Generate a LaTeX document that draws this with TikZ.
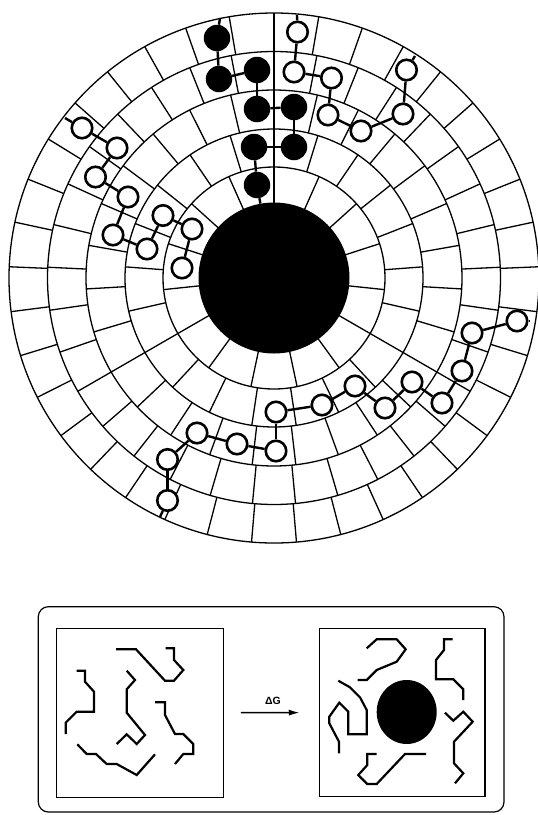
\documentclass[tikz,border=0pt]{standalone}
\usepackage{fontspec}
\setmainfont{Liberation Sans}
\usepackage{tikz}
\usetikzlibrary{arrows.meta, shapes.geometric}

\begin{document}
\begin{tikzpicture}[
    x=1pt, y=-1pt,
    cellline/.style={line width=1.3pt},
    core/.style={circle, fill=black, inner sep=0pt, minimum size=151pt},
    bead/.style={circle, draw=black, fill=white, line width=2.6pt, inner sep=0pt, minimum size=20.5pt},
    boundbead/.style={circle, fill=black, inner sep=0pt, minimum size=26.5pt},
    link/.style={line width=2.4pt},
    coil/.style={line width=2.2pt},
    panel/.style={draw, line width=1.2pt, inner sep=0pt},
    blob/.style={ellipse, fill=black, inner sep=0pt, minimum width=60pt, minimum height=64pt},
    arrow/.style={-{Latex[length=11pt, width=6pt]}, line width=1.4pt}
]
\useasboundingbox (0,0) rectangle (538,815);

% Lattice of rings
\begin{scope}[shift={(274,278)}, cellline]
  \foreach \r in {111,149,188,226.5,265}
    \draw (0,0) circle[radius=\r pt];
  \foreach \ri/\ro/\n in {75/111/15, 111/149/21, 149/188/27, 188/226.5/33, 226.5/265/37}
    \foreach \k in {1,...,\n}
      \draw ({90+\k*360/\n}:\ri pt) -- ({90+\k*360/\n}:\ro pt);
\end{scope}

% Surface
\node[core] (core) at (274,278) {};

% Bound chain
\node[boundbead] (b1) at (217,38) {};
\node[boundbead] (b2) at (219,79) {};
\node[boundbead] (b3) at (257,70) {};
\node[boundbead] (b4) at (257,109) {};
\node[boundbead] (b5) at (294,107) {};
\node[boundbead] (b6) at (294,147) {};
\node[boundbead] (b7) at (254,147) {};
\node[boundbead] (b8) at (257,185) {};
\coordinate (btail) at (220,18);

% Free chain, top right
\node[bead] (h1) at (297.5,32) {};
\node[bead] (h2) at (294,72) {};
\node[bead] (h3) at (331.5,78) {};
\node[bead] (h4) at (328,115) {};
\node[bead] (h5) at (361,131) {};
\node[bead] (h6) at (403,114) {};
\node[bead] (h7) at (406.5,70) {};
\coordinate (htail1) at (297,15);
\coordinate (htail2) at (415,56);

% Free chain, left
\node[bead] (l1) at (82,128) {};
\node[bead] (l2) at (117,148) {};
\node[bead] (l3) at (95.5,177) {};
\node[bead] (l4) at (128,197) {};
\node[bead] (l5) at (113,235) {};
\node[bead] (l6) at (147,249) {};
\node[bead] (l7) at (163,215.5) {};
\node[bead] (l8) at (192,229) {};
\node[bead] (l9) at (182,268) {};
\coordinate (ltail) at (65,118);

% Free chain, bottom
\node[bead] (c1) at (517,321) {};
\node[bead] (c2) at (472,333) {};
\node[bead] (c3) at (462,371) {};
\node[bead] (c4) at (442,403) {};
\node[bead] (c5) at (412,382) {};
\node[bead] (c6) at (385,408) {};
\node[bead] (c7) at (355,386) {};
\node[bead] (c8) at (322,405) {};
\node[bead] (c9) at (276,412) {};
\node[bead] (c10) at (276,451) {};
\node[bead] (c11) at (237,444) {};
\node[bead] (c12) at (197,433) {};
\node[bead] (c13) at (167.5,459.5) {};
\node[bead] (c14) at (167.5,500.5) {};
\coordinate (ctail1) at (530,321);
\coordinate (ctail2) at (160,517);

% Bonds
\foreach \a/\b in {btail/b1, b1/b2, b2/b3, b3/b4, b4/b5, b5/b6, b6/b7, b7/b8, b8/core,
                   htail1/h1, h1/h2, h2/h3, h3/h4, h4/h5, h5/h6, h6/h7, h7/htail2,
                   ltail/l1, l1/l2, l2/l3, l3/l4, l4/l5, l5/l6, l6/l7, l7/l8, l8/l9,
                   ctail1/c1, c1/c2, c2/c3, c3/c4, c4/c5, c5/c6, c6/c7, c7/c8, c8/c9,
                   c9/c10, c10/c11, c11/c12, c12/c13, c13/c14, c14/ctail2}
  \draw[link] (\a) -- (\b);

% Lower panel
\draw[line width=1.2pt, rounded corners=10pt] (38.3,606.7) rectangle (504,812);
\node[panel, minimum width=166.6pt, minimum height=169pt] (before) at (140,712.8) {};
\node[panel, minimum width=165.7pt, minimum height=168.4pt] (after) at (402.2,712.5) {};
\draw[arrow, shorten <=17pt, shorten >=19pt] (before) -- (after);
\node[font=\fontsize{10.5}{12}\selectfont\bfseries] (dg) at (273,701) {ΔG};

% Coils in solution
\draw[coil] (116,649.3) -- (136,649.3) -- (165,680.7) -- (174,680.7) -- (183.3,670) -- (174,660) -- (174,648.3) -- (165.7,648.3);
\draw[coil] (76.7,670.7) -- (85,670.7) -- (85,681.7) -- (94,691.7) -- (94,711.7) -- (76.7,711.7) -- (65.7,722.7) -- (65.7,734);
\draw[coil] (126.7,670.7) -- (135,680) -- (126.7,689.3) -- (126.7,712.7) -- (145,735) -- (136.7,744) -- (126.7,734.3) -- (116.7,744);
\draw[coil] (155,702.3) -- (165,702.3) -- (165,715) -- (175,734) -- (183.3,734) -- (193.3,744) -- (193.3,754) -- (183.3,754) -- (175,764);
\draw[coil] (77.3,744.3) -- (86.7,754) -- (96,754) -- (106.7,764) -- (116.7,764) -- (136.7,775) -- (155,754.3);

% Coils around the particle
\node[blob] (blob) at (406.7,712) {};
\draw[coil] (366.7,648.3) -- (376.7,639.3) -- (396.7,639.3) -- (405.7,649.3) -- (396.7,661.7) -- (376.7,670) -- (366.7,680) -- (357.7,680);
\draw[coil] (452.7,639.3) -- (444,639.3) -- (444,650) -- (436,660) -- (436,679.3) -- (453.3,679.3) -- (463.3,689.3) -- (463.3,700);
\draw[coil] (338.3,680.7) -- (350,687.3) -- (360,697.3) -- (366.7,710) -- (366.7,734.3) -- (348.3,734.3) -- (348.3,711.7) -- (339.3,702.7) -- (329.3,716.7) -- (329.3,723.3) -- (339,741.7) -- (339,753.3);
\draw[coil] (445,712.7) -- (453.3,720.7) -- (463.3,711.7) -- (472.7,721.7) -- (454,741.7) -- (454,763.3) -- (463.3,773.3) -- (455,783.3);
\draw[coil] (376.7,754) -- (367.3,754) -- (367.3,765) -- (358.3,775) -- (367.3,784) -- (376.7,784) -- (405,754) -- (426,754);
\end{tikzpicture}
\end{document}
